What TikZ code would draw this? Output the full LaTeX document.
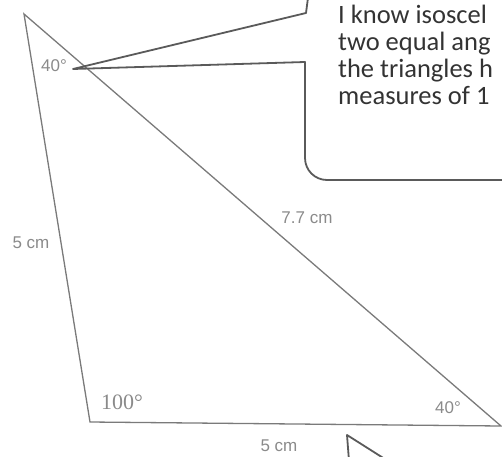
\documentclass[tikz,border=0pt]{standalone}
\usepackage{fontspec}
\setmainfont{Liberation Serif}
\setsansfont{Liberation Sans}
\newfontfamily\calibri{Carlito}
\usetikzlibrary{positioning,calc}
\definecolor{edgec}{HTML}{7A7A7A}
\definecolor{labc}{HTML}{8A8A8A}
\definecolor{bubc}{HTML}{5A5A5A}
\definecolor{txtc}{HTML}{333333}
\tikzset{
  side/.style={draw=edgec, line width=1.3pt, line join=miter},
  lab/.style={font=\sffamily\fontsize{17}{17}\selectfont, text=labc, inner sep=0pt},
  ang/.style={font=\sffamily\fontsize{17}{17}\selectfont, text=labc, inner sep=0pt},
  bigang/.style={font=\rmfamily\fontsize{22}{22}\selectfont, text=labc, inner sep=0pt},
  bubble/.style={draw=bubc, line width=1.8pt, line join=round},
  say/.style={font=\calibri\fontsize{26.5}{27}\selectfont, text=txtc, align=left, inner sep=0pt},
}
\begin{document}
\begin{tikzpicture}[x=1pt,y=1pt]
  \useasboundingbox (0,0) rectangle (502,456);
  % triangle
  \coordinate (A) at (24,442);
  \coordinate (B) at (90,34);
  \coordinate (C) at (501,30);
  \draw[side] (A) -- (B) -- (C) -- cycle;
  \node[ang] (angA) at (54,390) {40\textdegree};
  \node[bigang] (angB) at (122,54) {100\textdegree};
  \node[ang] (angC) at (448,48) {40\textdegree};
  \node[lab] (sideAB) at (31,213) {5 cm};
  \node[lab] (sideAC) at (307,238) {7.7 cm};
  \node[lab] (sideBC) at (279,10) {5 cm};
  % speech bubble
  \coordinate (tip) at (73,387);
  \draw[bubble] (309,466) -- (306,443) -- (tip) -- (305,394) -- (305,298)
    arc[start angle=180, end angle=270, radius=22] -- (520,276);
  \node[say, anchor=north west] (note) at (338,451)
    {I know isoscel\\two equal ang\\the triangles h\\measures of 1};
  % second bubble, cut off
  \coordinate (tip2) at (347,21);
  \draw[bubble] (349,-5) -- (tip2) -- (388,-5);
\end{tikzpicture}
\end{document}
